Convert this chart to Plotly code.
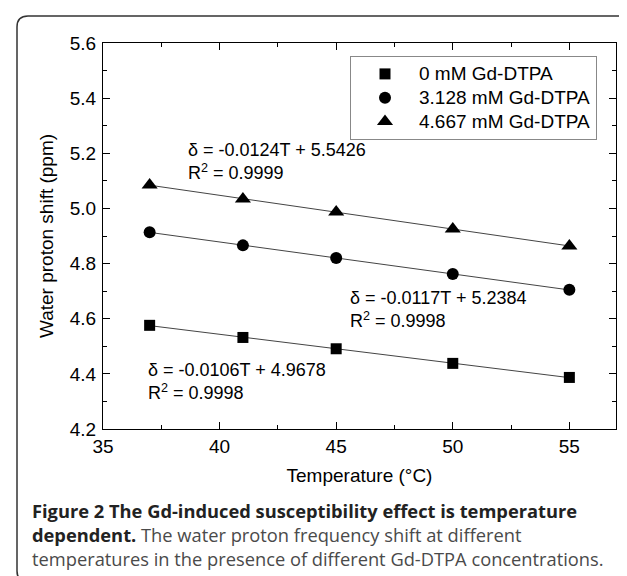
import numpy as np
import plotly.graph_objects as go

# ---- data ----
temperature = [37, 41, 45, 50, 55]
shift_0mM = [4.576, 4.532, 4.491, 4.438, 4.387]
shift_3128mM = [4.914, 4.866, 4.820, 4.762, 4.705]
shift_4667mM = [5.085, 5.034, 4.987, 4.925, 4.864]
series_names = ["0 mM Gd-DTPA", "3.128 mM Gd-DTPA", "4.667 mM Gd-DTPA"]
series_symbols = ["square", "circle", "triangle-up"]
equations = [
    "δ = -0.0106T + 4.9678<br>R<sup>2</sup> = 0.9998",
    "δ = -0.0117T + 5.2384<br>R<sup>2</sup> = 0.9998",
    "δ = -0.0124T + 5.5426<br>R<sup>2</sup> = 0.9999",
]
x_ticks = [35, 40, 45, 50, 55]
y_ticks = [4.2, 4.4, 4.6, 4.8, 5.0, 5.2, 5.4, 5.6]
caption = ("<b>Figure 2 The Gd-induced susceptibility effect is temperature</b><br>"
           "<b>dependent.</b> <span style='color:#4a4a4a'>The water proton frequency shift at different</span><br>"
           "<span style='color:#4a4a4a'>temperatures in the presence of different Gd-DTPA concentrations.</span>")

W, H = 627, 576
L, R, T, B = 95, 19, 35, 155
PW, PH = W - L - R, H - T - B

def px(x):
    return (x - L) / PW

def py(y):
    return (H - B - y) / PH

FONT = "Liberation Sans, Arial, sans-serif"
fig = go.Figure()

all_series = [shift_0mM, shift_3128mM, shift_4667mM]
marker_sizes = [11, 12, 14]
for vals, name, sym, ms in zip(all_series, series_names, series_symbols, marker_sizes):
    slope, icpt = np.polyfit(temperature, vals, 1)
    xs = np.array([min(temperature), max(temperature)])
    fig.add_trace(go.Scatter(x=xs, y=slope * xs + icpt, mode="lines",
                             line=dict(color="#444", width=1), showlegend=False,
                             hoverinfo="skip"))
    fig.add_trace(go.Scatter(x=temperature, y=vals, mode="markers",
                             name=f"<span style='font-size:19px'>{name}</span>",
                             marker=dict(symbol=sym, size=ms, color="black")))

axis_common = dict(showgrid=False, zeroline=False, showline=True, linecolor="black",
                   linewidth=1.3, mirror="ticks", ticks="inside", ticklen=7,
                   tickwidth=1.2, tickcolor="black",
                   tickfont=dict(family=FONT, size=19, color="black"))
fig.update_xaxes(range=[35, 57], tickvals=x_ticks,
                 minor=dict(dtick=2.5, tick0=35, ticks="inside", ticklen=4,
                            tickcolor="black", tickwidth=1.2),
                 title=dict(text="Temperature (°C)", font=dict(family=FONT, size=19, color="black"),
                            standoff=12),
                 **axis_common)
fig.update_yaxes(range=[4.2, 5.6], tickvals=y_ticks, tickformat=".1f", ticklabelstandoff=2,
                 minor=dict(dtick=0.1, tick0=4.2, ticks="inside", ticklen=4,
                            tickcolor="black", tickwidth=1.2),
                 title=dict(text="Water proton shift (ppm)", font=dict(family=FONT, size=19, color="black"),
                            standoff=10),
                 **axis_common)

# equation annotations (positions in pixels -> paper)
eq_pos = [(138, 373), (340, 301), (178, 153.5)]
annotations = []
for txt, (ax_, ay_) in zip(equations, eq_pos):
    annotations.append(dict(x=px(ax_), y=py(ay_), xref="paper", yref="paper", text=txt,
                            showarrow=False, xanchor="left", yanchor="middle", align="left",
                            font=dict(family=FONT, size=18, color="black")))

CAP = "Open Sans, sans-serif"
annotations.append(dict(x=px(22), y=py(526.5), xref="paper", yref="paper", text=caption,
                        showarrow=False, xanchor="left", yanchor="middle", align="left",
                        font=dict(family=CAP, size=18.3, color="#222")))

# rounded frame
x0, x1, y0, y1, r = 9, 627.5, 8, 574, 11
path = (f"M {px(x0+r)},{py(y0)} L {px(x1-r)},{py(y0)} Q {px(x1)},{py(y0)} {px(x1)},{py(y0+r)} "
        f"L {px(x1)},{py(y1-r)} Q {px(x1)},{py(y1)} {px(x1-r)},{py(y1)} "
        f"L {px(x0+r)},{py(y1)} Q {px(x0)},{py(y1)} {px(x0)},{py(y1-r)} "
        f"L {px(x0)},{py(y0+r)} Q {px(x0)},{py(y0)} {px(x0+r)},{py(y0)} Z")

fig.update_layout(
    width=W, height=H, margin=dict(l=L, r=R, t=T, b=B, autoexpand=False),
    paper_bgcolor="white", plot_bgcolor="white",
    annotations=annotations,
    shapes=[dict(type="path", path=path, xref="paper", yref="paper",
                 line=dict(color="#333", width=1.5), layer="above")],
    legend=dict(x=px(342), y=py(48), xanchor="left", yanchor="top",
                bordercolor="#888", borderwidth=1, bgcolor="white",
                font=dict(family=FONT, size=16, color="black"),
                tracegroupgap=0, itemwidth=58),
    showlegend=True,
)

fig.write_html("out.html")
